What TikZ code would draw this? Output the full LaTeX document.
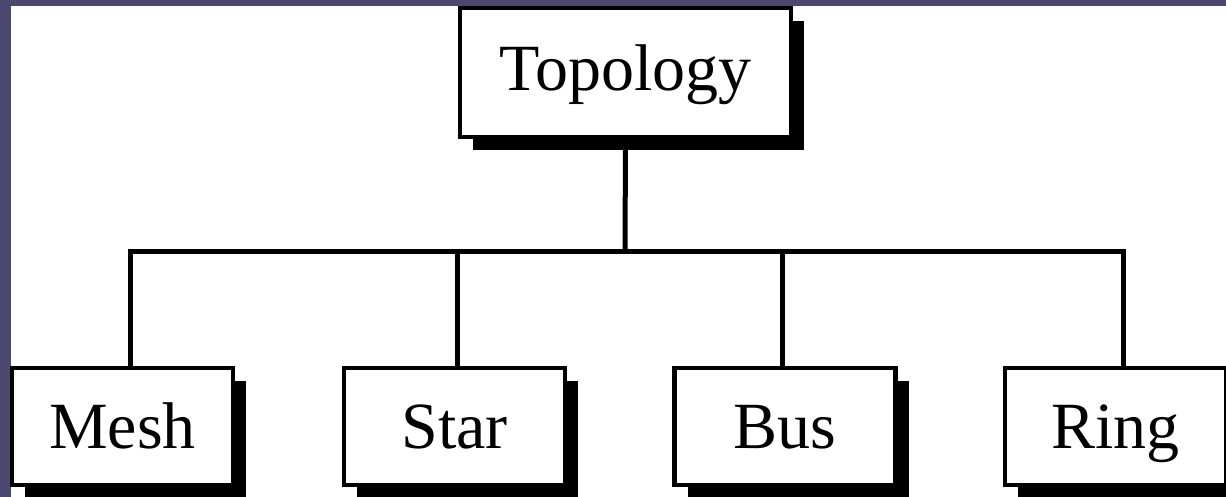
\documentclass[tikz,border=0pt]{standalone}
\usepackage{fontspec}
\setmainfont{Liberation Serif}
\usetikzlibrary{shadows}
\definecolor{slidebg}{HTML}{4B4870}
\begin{document}
\begin{tikzpicture}[x=1pt,y=-1pt,
  tbox/.style={draw=black,line width=4.5pt,fill=white,inner sep=0pt,
    font=\fontsize{66}{70}\selectfont,text height=43pt,text depth=0pt,
    drop shadow={shadow xshift=13pt,shadow yshift=-13pt,fill=black,opacity=1}},
  conn/.style={line width=5pt,draw=black}]
\useasboundingbox (0,0) rectangle (1226,497);
\clip (0,0) rectangle (1226,497);
\fill[slidebg] (0,0) rectangle (1226,497);
\fill[white] (11,6) rectangle (1226,497);
\node[tbox,minimum width=331pt,minimum height=129pt,text height=37pt] (top) at (625.5,72.5) {Topology};
\node[tbox,minimum width=221pt,minimum height=117pt] (mesh) at (122.5,426.5) {Mesh};
\node[tbox,minimum width=221pt,minimum height=117pt] (star) at (454.5,426.5) {Star};
\node[tbox,minimum width=221pt,minimum height=117pt] (bus) at (785,426.5) {Bus};
\node[tbox,minimum width=221pt,minimum height=117pt] (ring) at (1115.5,426.5) {Ring};
\coordinate (jt) at (625,251);
\coordinate (j1) at (130,251);
\coordinate (j2) at (457,251);
\coordinate (j3) at (782,251);
\coordinate (j4) at (1123,251);
\draw[conn] (top.south) -- (jt);
\draw[conn,line cap=rect] (j1) -- (j4);
\draw[conn] (j1) -- (j1 |- mesh.north);
\draw[conn] (j2) -- (j2 |- star.north);
\draw[conn] (j3) -- (j3 |- bus.north);
\draw[conn] (j4) -- (j4 |- ring.north);
\end{tikzpicture}
\end{document}
